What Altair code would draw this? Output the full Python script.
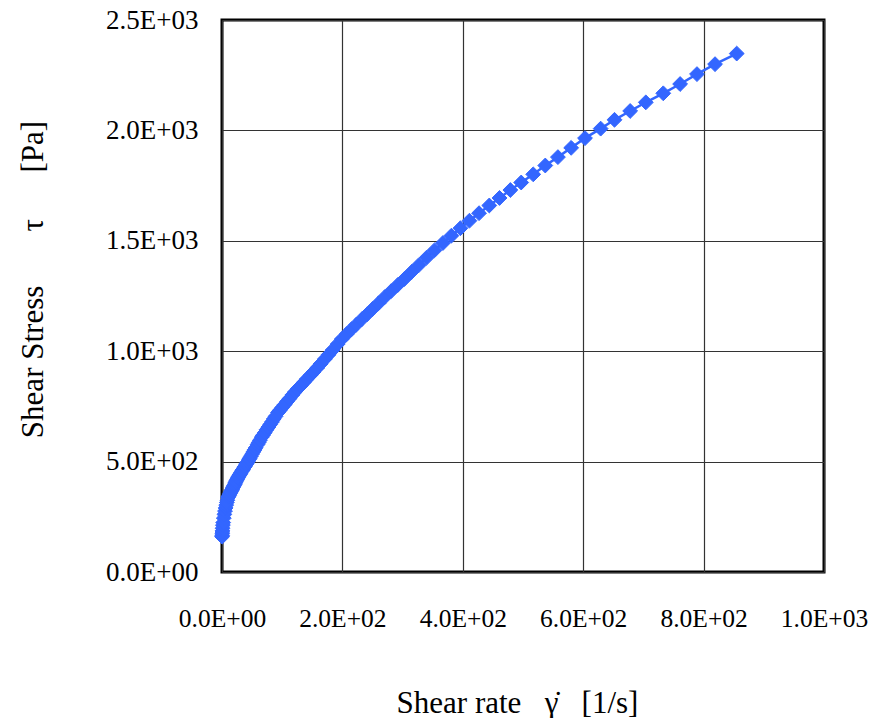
import altair as alt
import pandas as pd

# Shear rate [1/s] and shear stress [Pa]
shear_rate = [0.2, 0.3, 0.5, 0.7, 1, 1.5, 2, 3, 4, 5, 6, 7, 8, 9, 10,
              11, 12, 13, 14, 15, 16, 17, 18, 19, 20, 21, 22, 23, 24, 25,
              26, 27, 28, 29, 30, 31, 33, 34, 35, 37, 38, 40, 41, 43, 45,
              46, 48, 50, 52, 54, 56, 59, 61, 63, 66, 68, 71, 74, 77, 80,
              83, 86, 89, 93, 96, 100, 104, 108, 112, 117, 121, 126, 131, 136, 141,
              147, 152, 158, 164, 171, 177, 184, 192, 199, 207, 215, 223, 232, 241, 250,
              260, 270, 281, 292, 303, 315, 327, 340, 353, 367, 381, 396, 411, 427, 444,
              461, 479, 497, 517, 537, 558, 580, 603, 629, 652, 678, 704, 733, 761, 789,
              819, 855]
shear_stress = [160, 166, 176, 186, 198, 212, 224, 244, 261, 276, 290, 303, 315, 325, 337,
                343, 348, 354, 359, 364, 370, 375, 381, 386, 392, 397, 403, 408, 414, 419,
                425, 430, 434, 439, 443, 448, 456, 461, 465, 474, 478, 487, 492, 500, 510,
                515, 524, 534, 544, 553, 563, 577, 587, 597, 611, 619, 631, 644, 656, 668,
                680, 693, 705, 722, 732, 745, 758, 772, 785, 802, 815, 830, 844, 859, 874,
                891, 906, 924, 943, 965, 984, 1006, 1032, 1055, 1077, 1099, 1120, 1144, 1167, 1191,
                1217, 1244, 1272, 1300, 1327, 1359, 1390, 1424, 1457, 1490, 1523, 1557, 1591, 1625, 1660,
                1694, 1730, 1764, 1801, 1841, 1879, 1921, 1965, 2008, 2048, 2088, 2127, 2168, 2210, 2255,
                2300, 2348]

x_ticks = [0, 200, 400, 600, 800, 1000]
x_labels = ["0.0E+00", "2.0E+02", "4.0E+02", "6.0E+02", "8.0E+02", "1.0E+03"]
y_ticks = [0, 500, 1000, 1500, 2000, 2500]
y_labels = ["0.0E+00", "5.0E+02", "1.0E+03", "1.5E+03", "2.0E+03", "2.5E+03"]

x_title = "Shear rate\u00a0\u00a0\u00a0\u03b3\u0307\u00a0\u00a0\u00a0[1/s]"
y_title = "Shear Stress" + "\u00a0" * 7 + "\u03c4" + "\u00a0" * 6 + "[Pa]"

df = pd.DataFrame({"rate": shear_rate, "stress": shear_stress})


def label_expr(ticks, labels):
    parts = [f"datum.value == {t} ? '{l}'" for t, l in zip(ticks, labels)]
    return " : ".join(parts) + " : ''"


FONT = "Liberation Serif"
BLUE = "#3366ff"

x_enc = alt.X(
    "rate:Q",
    scale=alt.Scale(domain=[0, 1000], nice=False),
    axis=alt.Axis(
        values=x_ticks, labelExpr=label_expr(x_ticks, x_labels),
        title=x_title, titleX=295, titleY=140, titleAlign="center",
        titleBaseline="alphabetic", labelPadding=34, labelFlush=False,
        labelFontSize=25.5,
    ),
)
y_enc = alt.Y(
    "stress:Q",
    scale=alt.Scale(domain=[0, 2500], nice=False),
    axis=alt.Axis(
        values=y_ticks, labelExpr=label_expr(y_ticks, y_labels),
        title=y_title, titleX=-180, titleY=259, titleAngle=270,
        titleAlign="center", titleBaseline="alphabetic", labelPadding=24,
        labelFontSize=27,
    ),
)

base = alt.Chart(df).encode(x=x_enc, y=y_enc)
line = base.mark_line(color=BLUE, strokeWidth=2.5, clip=False)
points = base.mark_point(shape="diamond", filled=True, size=220, color=BLUE,
                         stroke=BLUE, strokeWidth=1, opacity=1, clip=False)

chart = (
    alt.layer(line, points)
    .properties(
        width=602, height=552,
        background="white",
        autosize=alt.AutoSizeParams(type="none"),
        padding={"left": 214, "top": 12, "right": 44, "bottom": 146},
    )
    .configure_view(stroke="black", strokeWidth=3)
    .configure_axis(
        grid=True, gridColor="#333333", gridWidth=1.2, gridOpacity=1,
        ticks=False, domain=False,
        labelFont=FONT, labelColor="black",
        labelOverlap=False, labelBound=False,
        titleFont=FONT, titleFontSize=31, titleFontWeight="normal", titleColor="black",
    )
)

chart.save("out.html", embed_options={"renderer": "svg", "actions": False})
